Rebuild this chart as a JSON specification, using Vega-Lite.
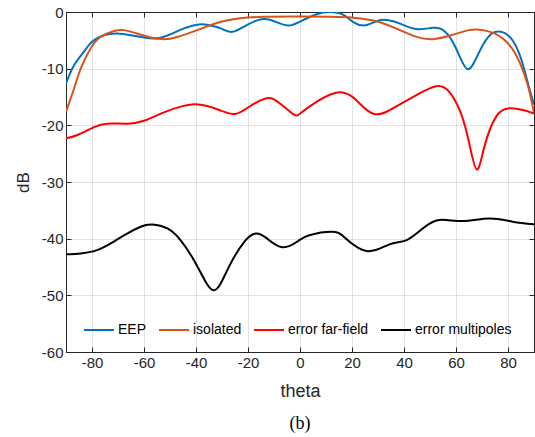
{
  "$schema": "https://vega.github.io/schema/vega-lite/v6.json",
  "width": 468,
  "height": 340,
  "autosize": {"type": "none"},
  "padding": {"left": 66, "top": 12, "right": 1, "bottom": 85},
  "background": "white",
  "config": {
    "view": {"stroke": "#262626", "strokeWidth": 1},
    "font": "Liberation Sans"
  },
  "title": {"text": "(b)", "orient": "bottom", "font": "Liberation Serif", "fontSize": 18, "fontWeight": "normal", "color": "black", "offset": 15},
  "data": {
    "values": [
      {"series": "EEP", "theta": -90, "dB": -12.6},
      {"series": "EEP", "theta": -86.9, "dB": -9.4},
      {"series": "EEP", "theta": -83.1, "dB": -7.0},
      {"series": "EEP", "theta": -79.9, "dB": -5.2},
      {"series": "EEP", "theta": -75.4, "dB": -4.1},
      {"series": "EEP", "theta": -70.3, "dB": -3.8},
      {"series": "EEP", "theta": -65.1, "dB": -4.1},
      {"series": "EEP", "theta": -60, "dB": -4.5},
      {"series": "EEP", "theta": -55, "dB": -4.65},
      {"series": "EEP", "theta": -49.7, "dB": -3.9},
      {"series": "EEP", "theta": -44.6, "dB": -2.9},
      {"series": "EEP", "theta": -38.8, "dB": -2.2},
      {"series": "EEP", "theta": -34.3, "dB": -2.4},
      {"series": "EEP", "theta": -30.5, "dB": -2.9},
      {"series": "EEP", "theta": -26, "dB": -3.5},
      {"series": "EEP", "theta": -20.5, "dB": -2.3},
      {"series": "EEP", "theta": -14.1, "dB": -1.25},
      {"series": "EEP", "theta": -9, "dB": -1.8},
      {"series": "EEP", "theta": -4.5, "dB": -2.4},
      {"series": "EEP", "theta": 0, "dB": -1.7},
      {"series": "EEP", "theta": 6.4, "dB": -0.4},
      {"series": "EEP", "theta": 11.5, "dB": 0.0},
      {"series": "EEP", "theta": 16.7, "dB": -0.5},
      {"series": "EEP", "theta": 20.5, "dB": -1.8},
      {"series": "EEP", "theta": 24.4, "dB": -2.4},
      {"series": "EEP", "theta": 27.5, "dB": -2.0},
      {"series": "EEP", "theta": 31, "dB": -1.4},
      {"series": "EEP", "theta": 34, "dB": -1.45},
      {"series": "EEP", "theta": 38.2, "dB": -2.0},
      {"series": "EEP", "theta": 44.6, "dB": -3.0},
      {"series": "EEP", "theta": 51, "dB": -2.8},
      {"series": "EEP", "theta": 55.5, "dB": -3.35},
      {"series": "EEP", "theta": 60, "dB": -6.4},
      {"series": "EEP", "theta": 64.5, "dB": -10.1},
      {"series": "EEP", "theta": 69, "dB": -7.0},
      {"series": "EEP", "theta": 73.5, "dB": -3.9},
      {"series": "EEP", "theta": 77.3, "dB": -3.5},
      {"series": "EEP", "theta": 81.2, "dB": -4.65},
      {"series": "EEP", "theta": 85, "dB": -8.2},
      {"series": "EEP", "theta": 88.2, "dB": -13.5},
      {"series": "EEP", "theta": 90, "dB": -16.3},
      {"series": "isolated", "theta": -90, "dB": -17.6},
      {"series": "isolated", "theta": -86.9, "dB": -13.5},
      {"series": "isolated", "theta": -84.3, "dB": -9.95},
      {"series": "isolated", "theta": -80.5, "dB": -6.4},
      {"series": "isolated", "theta": -76.7, "dB": -4.4},
      {"series": "isolated", "theta": -71.5, "dB": -3.35},
      {"series": "isolated", "theta": -67.7, "dB": -3.2},
      {"series": "isolated", "theta": -62.6, "dB": -3.8},
      {"series": "isolated", "theta": -57.4, "dB": -4.5},
      {"series": "isolated", "theta": -52.3, "dB": -4.8},
      {"series": "isolated", "theta": -47.2, "dB": -4.4},
      {"series": "isolated", "theta": -39.5, "dB": -3.2},
      {"series": "isolated", "theta": -34.3, "dB": -2.3},
      {"series": "isolated", "theta": -29.2, "dB": -1.6},
      {"series": "isolated", "theta": -23, "dB": -1.1},
      {"series": "isolated", "theta": -14, "dB": -0.85},
      {"series": "isolated", "theta": 0, "dB": -0.8},
      {"series": "isolated", "theta": 11.5, "dB": -0.85},
      {"series": "isolated", "theta": 20.5, "dB": -1.0},
      {"series": "isolated", "theta": 27, "dB": -1.4},
      {"series": "isolated", "theta": 30.8, "dB": -1.8},
      {"series": "isolated", "theta": 36.9, "dB": -2.9},
      {"series": "isolated", "theta": 44.6, "dB": -4.35},
      {"series": "isolated", "theta": 51, "dB": -4.8},
      {"series": "isolated", "theta": 57.4, "dB": -4.2},
      {"series": "isolated", "theta": 65.1, "dB": -3.2},
      {"series": "isolated", "theta": 70.3, "dB": -3.2},
      {"series": "isolated", "theta": 75.4, "dB": -3.9},
      {"series": "isolated", "theta": 80.5, "dB": -5.8},
      {"series": "isolated", "theta": 84.4, "dB": -8.8},
      {"series": "isolated", "theta": 87.6, "dB": -12.9},
      {"series": "isolated", "theta": 90, "dB": -17.8},
      {"series": "error far-field", "theta": -90, "dB": -22.3},
      {"series": "error far-field", "theta": -85.6, "dB": -21.7},
      {"series": "error far-field", "theta": -79.2, "dB": -20.3},
      {"series": "error far-field", "theta": -74.1, "dB": -19.7},
      {"series": "error far-field", "theta": -66.4, "dB": -19.7},
      {"series": "error far-field", "theta": -60, "dB": -19.2},
      {"series": "error far-field", "theta": -52.3, "dB": -17.7},
      {"series": "error far-field", "theta": -45.9, "dB": -16.7},
      {"series": "error far-field", "theta": -40.8, "dB": -16.3},
      {"series": "error far-field", "theta": -35.7, "dB": -16.6},
      {"series": "error far-field", "theta": -30.5, "dB": -17.4},
      {"series": "error far-field", "theta": -26, "dB": -18.0},
      {"series": "error far-field", "theta": -21.5, "dB": -17.3},
      {"series": "error far-field", "theta": -13.2, "dB": -15.25},
      {"series": "error far-field", "theta": -7.4, "dB": -16.25},
      {"series": "error far-field", "theta": -3, "dB": -17.9},
      {"series": "error far-field", "theta": -0.8, "dB": -18.2},
      {"series": "error far-field", "theta": 3.6, "dB": -16.7},
      {"series": "error far-field", "theta": 13.8, "dB": -14.25},
      {"series": "error far-field", "theta": 21.5, "dB": -15.5},
      {"series": "error far-field", "theta": 28.6, "dB": -18.0},
      {"series": "error far-field", "theta": 36.9, "dB": -16.7},
      {"series": "error far-field", "theta": 44.6, "dB": -14.7},
      {"series": "error far-field", "theta": 52.3, "dB": -13.1},
      {"series": "error far-field", "theta": 57.4, "dB": -14.1},
      {"series": "error far-field", "theta": 61.9, "dB": -17.9},
      {"series": "error far-field", "theta": 65.1, "dB": -23.2},
      {"series": "error far-field", "theta": 68, "dB": -27.8},
      {"series": "error far-field", "theta": 70.9, "dB": -23.8},
      {"series": "error far-field", "theta": 75.4, "dB": -18.5},
      {"series": "error far-field", "theta": 80.5, "dB": -17.0},
      {"series": "error far-field", "theta": 85.7, "dB": -17.3},
      {"series": "error far-field", "theta": 90, "dB": -17.9},
      {"series": "error multipoles", "theta": -90, "dB": -42.75},
      {"series": "error multipoles", "theta": -84.3, "dB": -42.6},
      {"series": "error multipoles", "theta": -79.2, "dB": -42.2},
      {"series": "error multipoles", "theta": -74.1, "dB": -41.2},
      {"series": "error multipoles", "theta": -67.7, "dB": -39.4},
      {"series": "error multipoles", "theta": -61.3, "dB": -37.9},
      {"series": "error multipoles", "theta": -56.8, "dB": -37.5},
      {"series": "error multipoles", "theta": -51, "dB": -38.2},
      {"series": "error multipoles", "theta": -45.9, "dB": -40.3},
      {"series": "error multipoles", "theta": -40.8, "dB": -43.8},
      {"series": "error multipoles", "theta": -36.3, "dB": -47.6},
      {"series": "error multipoles", "theta": -33.3, "dB": -49.1},
      {"series": "error multipoles", "theta": -30.5, "dB": -47.9},
      {"series": "error multipoles", "theta": -26.7, "dB": -44.4},
      {"series": "error multipoles", "theta": -21.5, "dB": -40.6},
      {"series": "error multipoles", "theta": -17, "dB": -39.1},
      {"series": "error multipoles", "theta": -12.6, "dB": -40.0},
      {"series": "error multipoles", "theta": -6.8, "dB": -41.5},
      {"series": "error multipoles", "theta": -1, "dB": -40.5},
      {"series": "error multipoles", "theta": 3.6, "dB": -39.4},
      {"series": "error multipoles", "theta": 12.6, "dB": -38.8},
      {"series": "error multipoles", "theta": 17.7, "dB": -40.0},
      {"series": "error multipoles", "theta": 26, "dB": -42.2},
      {"series": "error multipoles", "theta": 34.4, "dB": -41.0},
      {"series": "error multipoles", "theta": 40.8, "dB": -40.3},
      {"series": "error multipoles", "theta": 47.2, "dB": -38.2},
      {"series": "error multipoles", "theta": 53.6, "dB": -36.7},
      {"series": "error multipoles", "theta": 62.6, "dB": -36.9},
      {"series": "error multipoles", "theta": 72.8, "dB": -36.45},
      {"series": "error multipoles", "theta": 81.8, "dB": -37.0},
      {"series": "error multipoles", "theta": 90, "dB": -37.45}
    ]
  },
  "layer": [
    {
      "mark": {"type": "line", "interpolate": "natural", "strokeWidth": 2, "clip": true},
      "encoding": {
        "x": {
          "field": "theta", "type": "quantitative",
          "scale": {"domain": [-90, 90], "nice": false, "zero": false},
          "axis": {
            "values": [-80, -60, -40, -20, 0, 20, 40, 60, 80],
            "labelExpr": "'' + datum.value",
            "title": "theta", "titleFont": "Liberation Sans", "titleFontSize": 18, "titleFontWeight": "normal", "titleColor": "#262626", "titlePadding": 12,
            "labelFont": "Liberation Sans", "labelFontSize": 15, "labelColor": "#262626", "labelPadding": 8,
            "domainColor": "#262626", "tickColor": "#262626", "tickSize": -5,
            "grid": true, "gridColor": "#262626", "gridOpacity": 0.13
          }
        },
        "y": {
          "field": "dB", "type": "quantitative",
          "scale": {"domain": [-60, 0], "nice": false, "zero": false},
          "axis": {
            "values": [-60, -50, -40, -30, -20, -10, 0],
            "labelExpr": "'' + datum.value",
            "title": "dB", "titleFont": "Liberation Sans", "titleFontSize": 17, "titleFontWeight": "normal", "titleColor": "#262626", "titlePadding": 9,
            "labelFont": "Liberation Sans", "labelFontSize": 15, "labelColor": "#262626", "labelPadding": 8,
            "domainColor": "#262626", "tickColor": "#262626", "tickSize": -5,
            "grid": true, "gridColor": "#262626", "gridOpacity": 0.13
          }
        },
        "color": {
          "field": "series", "type": "nominal",
          "scale": {"domain": ["EEP", "isolated", "error far-field", "error multipoles"], "range": ["#0072BD", "#D95319", "#FF0000", "#000000"]},
          "legend": {
            "title": null, "orient": "none", "direction": "horizontal", "legendX": 17, "legendY": 302,
            "symbolType": "stroke", "symbolSize": 900, "symbolStrokeWidth": 2,
            "labelFont": "Liberation Sans", "labelFontSize": 14, "labelColor": "#000000", "labelOffset": 3,
            "columnPadding": 8, "padding": 0
          }
        }
      }
    },
    {
      "mark": {"type": "line", "opacity": 0},
      "encoding": {
        "x": {"field": "theta", "type": "quantitative", "scale": {"domain": [-90, 90], "nice": false, "zero": false},
          "axis": {"orient": "top", "values": [-80, -60, -40, -20, 0, 20, 40, 60, 80], "labels": false, "title": null, "grid": false, "domainColor": "#262626", "tickColor": "#262626", "tickSize": -5}},
        "y": {"field": "dB", "type": "quantitative", "scale": {"domain": [-60, 0], "nice": false, "zero": false},
          "axis": {"orient": "right", "values": [-60, -50, -40, -30, -20, -10, 0], "labels": false, "title": null, "grid": false, "domainColor": "#262626", "tickColor": "#262626", "tickSize": -5}},
        "detail": {"field": "series", "type": "nominal"}
      }
    }
  ],
  "resolve": {"axis": {"x": "independent", "y": "independent"}}
}
